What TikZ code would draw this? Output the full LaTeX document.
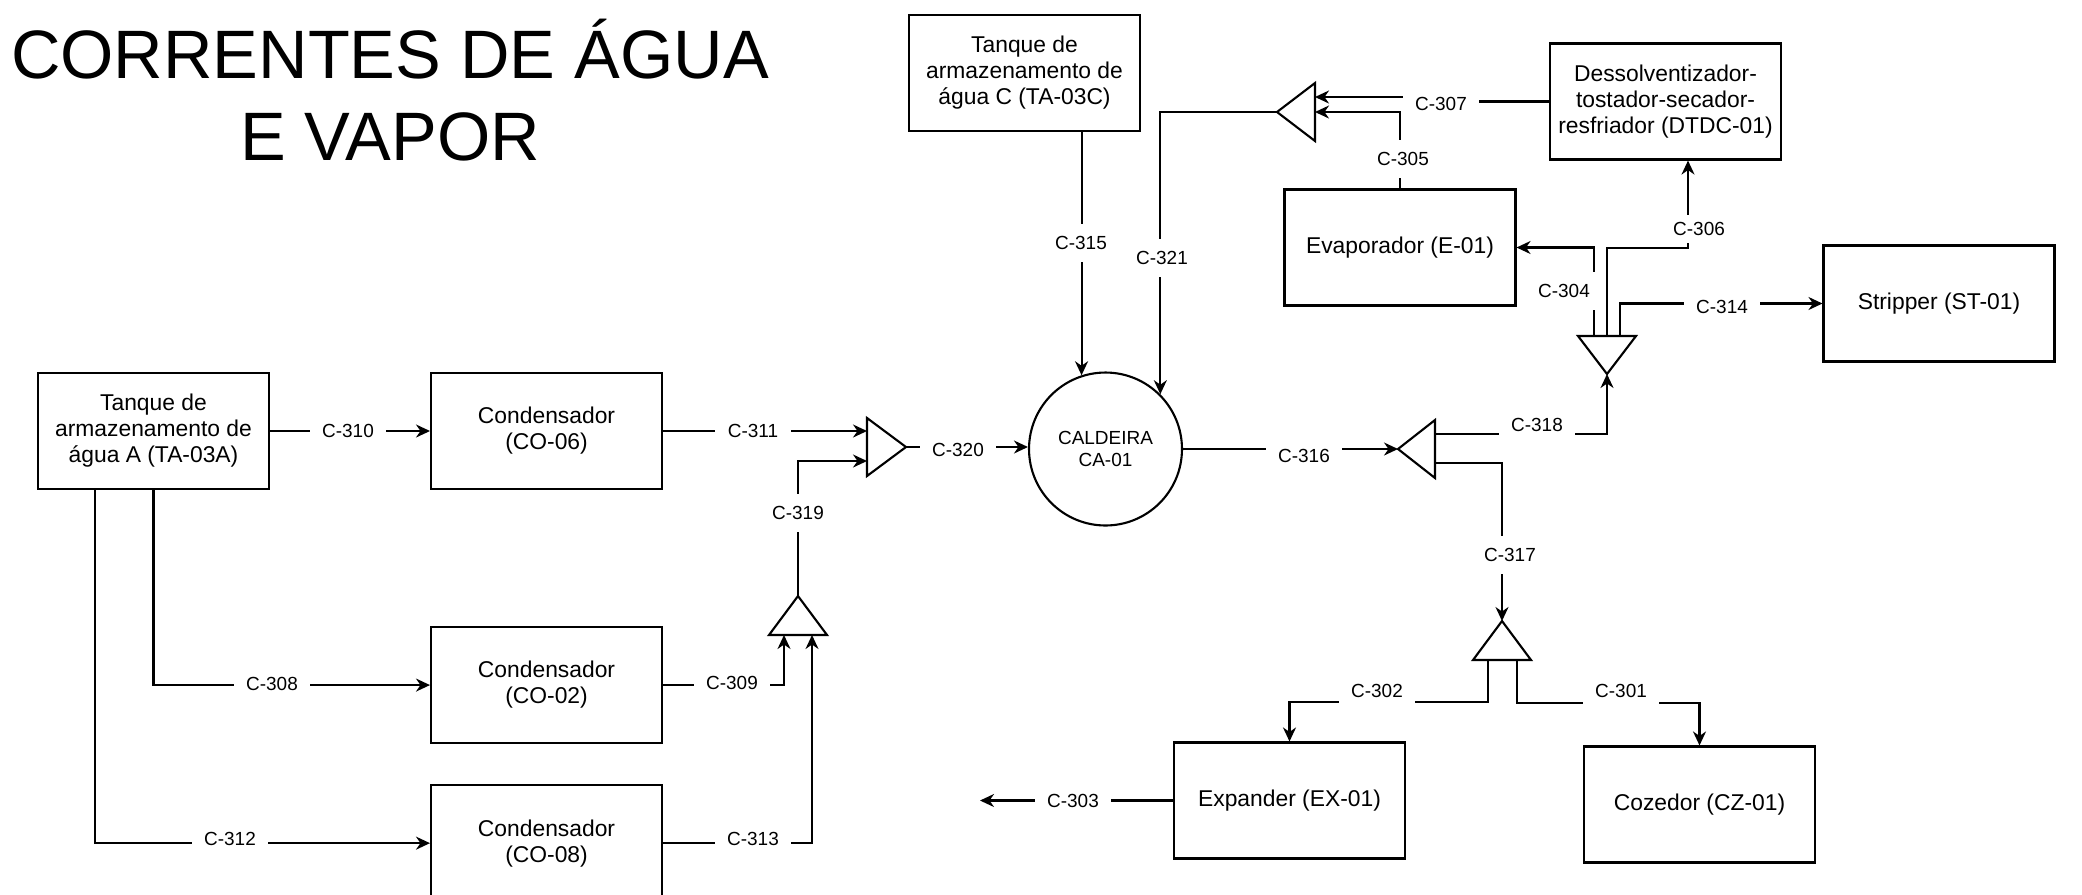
\documentclass[tikz,border=0pt]{standalone}
\usepackage{fontspec}
\setmainfont{Liberation Sans}
\usetikzlibrary{arrows.meta,calc,positioning}

\begin{document}
\begin{tikzpicture}[
  x=0.02cm, y=-0.02cm,
  unit/.style   = {draw, line width=1.2pt, align=center, inner sep=2pt,
                   minimum width=4.62cm, minimum height=2.32cm,
                   font=\fontsize{13}{14.8}\selectfont},
  boiler/.style = {draw, circle, line width=1.2pt, align=center, inner sep=0pt,
                   minimum size=3.06cm, font=\fontsize{10.8}{13}\selectfont},
  mixer/.style  = {draw, line width=1.2pt, line join=miter},
  lbl/.style    = {fill=white, inner xsep=0.25cm, inner ysep=0.25cm,
                   font=\fontsize{10.8}{13}\selectfont},
  pipe/.style   = {line width=1.2pt},
  arr/.style    = {pipe, -{Stealth[length=2.8mm,width=2.6mm,inset=0.9mm]}},
  node distance = 2.72cm,
]
\useasboundingbox (0,0) rectangle (2082,894);

\node[font=\fontsize{39}{46.8}\selectfont, align=center] (title) at (390,90)
  {CORRENTES DE ÁGUA\\E VAPOR};

% equipment
\node[unit] (ta3a) at (153.5,431) {Tanque de\\armazenamento de\\água A (TA-03A)};
\node[unit, right=3.2cm of ta3a] (co06) {Condensador\\(CO-06)};
\node[unit, below=of co06] (co02) {Condensador\\(CO-02)};
\node[unit, below=0.8cm of co02] (co08) {Condensador\\(CO-08)};
\node[unit] (ta3c) at (1024.5,73) {Tanque de\\armazenamento de\\água C (TA-03C)};
\node[boiler] (cald) at (1105.5,449) {CALDEIRA\\CA-01};
\node[unit] (dtdc) at (1665.5,101.5) {Dessolventizador-\\tostador-secador-\\resfriador (DTDC-01)};
\node[unit] (evap) at (1400,247.5) {Evaporador (E-01)};
\node[unit] (strip) at (1939,303.5) {Stripper (ST-01)};
\node[unit] (ex01) at (1289.5,800.5) {Expander (EX-01)};
\node[unit] (cz01) at (1699.5,804.5) {Cozedor (CZ-01)};
\coordinate (c303) at (980,800.5);

% mixers / splitters, named by their tip
\coordinate (m1) at (906,447);
\coordinate (m2) at (798,596);
\coordinate (m3) at (1277,112);
\coordinate (m4) at (1607,374);
\coordinate (m5) at (1398,449);
\coordinate (m6) at (1502,621);
\draw[mixer] (m1) -- ++(-39,-29) -- ++(0,58) -- cycle;
\draw[mixer] (m2) -- ++(-29,39) -- ++(58,0) -- cycle;
\draw[mixer] (m3) -- ++(38,-29) -- ++(0,58) -- cycle;
\draw[mixer] (m4) -- ++(-29,-38) -- ++(58,0) -- cycle;
\draw[mixer] (m5) -- ++(37,-29) -- ++(0,58) -- cycle;
\draw[mixer] (m6) -- ++(-29,39) -- ++(58,0) -- cycle;

% streams
\draw[arr] (ta3a) -- (co06) node[lbl] at (348,431) {C-310};
\draw[arr] (ta3a.south) |- (co02.west) node[lbl] at (272,684) {C-308};
\draw[arr] ($(ta3a.south west)+(58,0)$) |- (co08.west) node[lbl] at (230,839) {C-312};
\draw[arr] (co06.east) -- ($(m1)+(-39,-16)$) node[lbl] at (753,431) {C-311};
\draw[arr] (co02.east) -| ($(m2)+(-14,39)$) node[lbl] at (732,683) {C-309};
\draw[arr] (co08.east) -| ($(m2)+(14,39)$) node[lbl] at (753,839) {C-313};
\draw[arr] (m2) |- ($(m1)+(-39,14)$) node[lbl] at (798,513) {C-319};
\draw[arr] (m1) -- (m1 -| cald.west) node[lbl] at (958,450) {C-320};
\draw[arr] (cald.108 |- ta3c.south) -- (cald.108) node[lbl] at (1081,243) {C-315};
\draw[arr] (m3) -| (cald.45.6) node[lbl] at (1162,258) {C-321};
\draw[arr] (dtdc.west) -- ++(-112,0) |- ($(m3)+(38,-15)$) node[lbl] at (1441,104) {C-307};
\draw[arr] (evap.north) |- ($(m3)+(38,0)$) node[lbl] at (1403,159) {C-305};
\draw[arr] (cald.east) -- (m5) node[lbl] at (1304,456) {C-316};
\draw[arr] ($(m5)+(37,-15)$) -| (m4) node[lbl] at (1537,425) {C-318};
\draw[arr] ($(m5)+(37,14)$) -| (m6) node[lbl] at (1510,555) {C-317};
\draw[arr] ($(m4)+(-13,-38)$) |- (evap.east) node[lbl] at (1564,291) {C-304};
\draw[arr] ($(m4)+(0,-38)$) -- ++(0,-88) -| ($(dtdc.south)+(22.5,0)$)
  node[lbl, inner ysep=0.14cm] at (1699,229) {C-306};
\draw[arr] ($(m4)+(13,-38)$) |- (strip.west) node[lbl] at (1722,307) {C-314};
\draw[arr] ($(m6)+(-14,39)$) -- ++(0,42) -| (ex01.north) node[lbl] at (1377,691) {C-302};
\draw[arr] ($(m6)+(15,39)$) -- ++(0,43) -| (cz01.north) node[lbl] at (1621,691) {C-301};
\draw[arr] (ex01.west) -- (c303) node[lbl] at (1073,801) {C-303};
\end{tikzpicture}
\end{document}
